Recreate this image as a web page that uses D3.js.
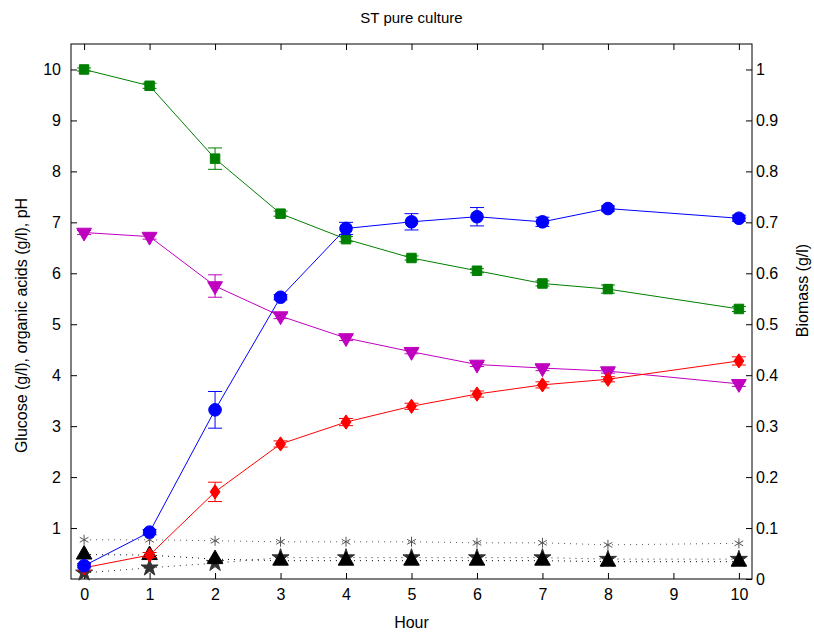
<!DOCTYPE html>
<html>
<head>
<meta charset="utf-8">
<script src="https://cdn.jsdelivr.net/npm/d3@7"></script>
<style>
  body { margin: 0; background: #fff; }
  text { font-family: "Liberation Sans", Arial, sans-serif; }
</style>
</head>
<body>
<div id="chart"></div>
<script>
let hours = [0, 1, 2, 3, 4, 5, 6, 7, 8, 10];
let glucose = [10, 9.68, 8.25, 7.17, 6.67, 6.3, 6.05, 5.8, 5.69, 5.3];
let glucoseErr = [0.03, 0.05, 0.21, 0.05, 0.05, 0.04, 0.04, 0.05, 0.08, 0.05];
let pH = [6.8, 6.72, 5.75, 5.16, 4.73, 4.46, 4.21, 4.14, 4.08, 3.83];
let pHErr = [0.04, 0.05, 0.22, 0.05, 0.05, 0.04, 0.04, 0.05, 0.04, 0.05];
let lactic = [0.22, 0.47, 1.71, 2.65, 3.08, 3.39, 3.63, 3.81, 3.92, 4.28];
let lacticErr = [0.05, 0.05, 0.19, 0.06, 0.07, 0.06, 0.06, 0.06, 0.05, 0.08];
let biomass = [0.026, 0.092, 0.332, 0.553, 0.688, 0.701, 0.711, 0.701, 0.727, 0.708];
let biomassErr = [0.004, 0.005, 0.036, 0.005, 0.012, 0.016, 0.018, 0.009, 0.005, 0.006];
let acidA = [0.77, 0.77, 0.75, 0.73, 0.73, 0.73, 0.71, 0.71, 0.67, 0.7];
let acidB = [0.48, 0.47, 0.39, 0.36, 0.36, 0.36, 0.36, 0.36, 0.34, 0.34];
let acidC = [0.12, 0.22, 0.31, 0.42, 0.42, 0.42, 0.42, 0.42, 0.39, 0.39];
let xTicks = [0, 1, 2, 3, 4, 5, 6, 7, 8, 9, 10];
let leftTicks = [1, 2, 3, 4, 5, 6, 7, 8, 9, 10];
let rightTicks = [0, 0.1, 0.2, 0.3, 0.4, 0.5, 0.6, 0.7, 0.8, 0.9, 1];

var margin = {top: 44, right: 62, bottom: 54, left: 71},
    width = 814 - margin.left - margin.right,
    height = 633 - margin.top - margin.bottom;

var svg = d3.select("#chart").append("svg")
    .attr("width", 814).attr("height", 633)
    .append("g")
    .attr("transform", "translate(" + margin.left + "," + margin.top + ")");

var x = d3.scaleLinear().domain([-0.2, 10.2]).range([0, width]);
var yL = d3.scaleLinear().domain([0, 10.5]).range([height, 0]);
var yR = d3.scaleLinear().domain([0, 1.05]).range([height, 0]);

// frame
svg.append("rect").attr("width", width).attr("height", height)
    .attr("fill", "none").attr("stroke", "#000").attr("stroke-width", 1);

// axes (ticks inside, like matlab)
let bottomAx = svg.append("g").attr("transform", "translate(0," + height + ")")
    .call(d3.axisBottom(x).tickValues(xTicks).tickSizeInner(-6).tickSizeOuter(0).tickPadding(10));
let topAx = svg.append("g")
    .call(d3.axisTop(x).tickValues(xTicks).tickSizeInner(-6).tickSizeOuter(0).tickFormat(""));
let leftAx = svg.append("g")
    .call(d3.axisLeft(yL).tickValues(leftTicks).tickSizeInner(-6).tickSizeOuter(0).tickPadding(10));
let rightAx = svg.append("g").attr("transform", "translate(" + width + ",0)")
    .call(d3.axisRight(yR).tickValues(rightTicks).tickSizeInner(-6).tickSizeOuter(0).tickPadding(4)
        .tickFormat(d => d3.format("")(+d.toFixed(1))));
[bottomAx, topAx, leftAx, rightAx].forEach(a => {
    a.select(".domain").remove();
    a.selectAll("text").attr("font-size", 16).attr("fill", "#000")
        .attr("font-family", "Liberation Sans, Arial, sans-serif");
    a.selectAll("line").attr("stroke", "#000");
});

// labels
svg.append("text").attr("x", width / 2).attr("y", -21).attr("text-anchor", "middle")
    .attr("font-size", 15).text("ST pure culture");
svg.append("text").attr("x", width / 2).attr("y", height + 49).attr("text-anchor", "middle")
    .attr("font-size", 16).text("Hour");
svg.append("text").attr("transform", "translate(-44," + (height / 2 + 14) + ") rotate(-90)")
    .attr("text-anchor", "middle").attr("font-size", 16)
    .text("Glucose (g/l), organic acids (g/l), pH");
svg.append("text").attr("transform", "translate(" + (width + 56) + "," + (height / 2 - 21) + ") rotate(-90)")
    .attr("text-anchor", "middle").attr("font-size", 16).text("Biomass (g/l)");

function drawSeries(vals, errs, y, color, symbol, size, dotted) {
    let pts = hours.map((h, i) => ({h: h, v: vals[i], e: errs ? errs[i] : 0}));
    let line = d3.line().x(d => x(d.h)).y(d => y(d.v));
    svg.append("path").datum(pts).attr("d", line)
        .attr("fill", "none").attr("stroke", color).attr("stroke-width", 1)
        .attr("stroke-dasharray", dotted ? "1,5" : null);
    if (errs) {
        let g = svg.append("g").attr("stroke", color).attr("stroke-width", 1);
        pts.forEach(d => {
            let y1 = y(d.v + d.e), y2 = y(d.v - d.e), cx = x(d.h);
            g.append("line").attr("x1", cx).attr("x2", cx).attr("y1", y1).attr("y2", y2);
            g.append("line").attr("x1", cx - 7).attr("x2", cx + 7).attr("y1", y1).attr("y2", y1);
            g.append("line").attr("x1", cx - 7).attr("x2", cx + 7).attr("y1", y2).attr("y2", y2);
        });
    }
    let sym = d3.symbol().type(symbol).size(size);
    svg.append("g").selectAll("path").data(pts).join("path")
        .attr("d", sym)
        .attr("transform", d => "translate(" + x(d.h) + "," + y(d.v) + ")")
        .attr("fill", symbol === d3.symbolAsterisk ? "none" : color)
        .attr("stroke", color).attr("stroke-width", 1);
}

let triDown = {draw: function (ctx, size) {
    let s = Math.sqrt(size / 0.433) / 2;
    ctx.moveTo(-s, -s * 0.58);
    ctx.lineTo(s, -s * 0.58);
    ctx.lineTo(0, s * 1.15);
    ctx.closePath();
}};
let diamond = {draw: function (ctx, size) {
    let w = Math.sqrt(size) * 0.45, h = Math.sqrt(size) * 0.65;
    ctx.moveTo(0, -h); ctx.lineTo(w, 0); ctx.lineTo(0, h); ctx.lineTo(-w, 0); ctx.closePath();
}};

// dotted black organic acids
drawSeries(acidA, null, yL, "#555", d3.symbolAsterisk, 70, true);
drawSeries(acidC, null, yL, "#333", d3.symbolStar, 90, true);
drawSeries(acidB, null, yL, "#000", d3.symbolTriangle, 105, true);

drawSeries(glucose, glucoseErr, yL, "#008000", d3.symbolSquare, 90, false);
drawSeries(pH, pHErr, yL, "#bf00bf", triDown, 95, false);
drawSeries(lactic, lacticErr, yL, "#ff0000", diamond, 120, false);
drawSeries(biomass, biomassErr, yR, "#0000ff", d3.symbolCircle, 125, false);
</script>
</body>
</html>
